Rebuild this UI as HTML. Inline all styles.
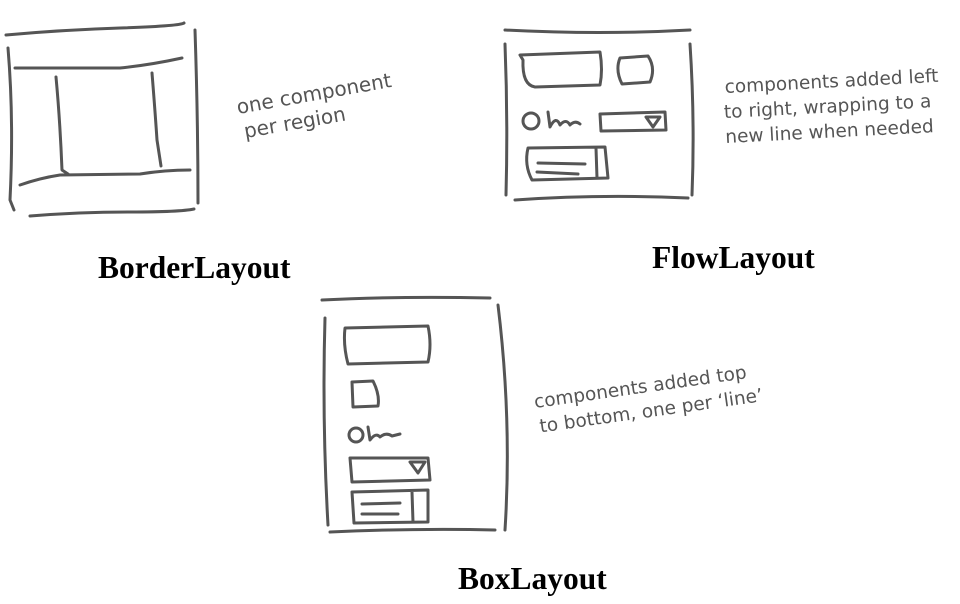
<!DOCTYPE html>
<html><head><meta charset="utf-8"><style>
body{margin:0;background:#fff;width:960px;height:604px;overflow:hidden}
svg{position:absolute;left:0;top:0}
.s{fill:none;stroke:#555;stroke-width:3;stroke-linecap:round;stroke-linejoin:round}
.h{font-family:"DejaVu Sans","Liberation Sans",sans-serif;fill:#555;font-size:18.5px}
.t{font-family:"Liberation Serif",serif;font-weight:bold;font-size:31.5px;fill:#000}
</style></head><body>
<svg width="960" height="604">
<g>
<path class="s" d="M6 35 Q60 30 120 28 T184 23"/>
<path class="s" d="M8 48 Q14 120 10 200 L14 210"/>
<path class="s" d="M195 30 Q198 120 198 203"/>
<path class="s" d="M15 68 L120 68 Q150 65 182 58"/>
<path class="s" d="M56 77 Q60 120 62 170 L68 174"/>
<path class="s" d="M152 73 Q155 110 157 140 L161 166"/>
<path class="s" d="M20 185 Q40 178 60 175 L140 174 Q165 170 190 170"/>
<path class="s" d="M30 216 Q80 212 130 212 T194 209"/>
</g>
<text class="h" style="font-size:20px" transform="translate(238 114) rotate(-10)"><tspan x="0" y="0">one component</tspan><tspan x="3" y="25">per region</tspan></text>
<text class="t" x="98" y="278">BorderLayout</text>

<g>
<path class="s" d="M505 30 Q600 35 690 30"/>
<path class="s" d="M505 44 Q508 120 506 195"/>
<path class="s" d="M690 44 Q695 120 692 195"/>
<path class="s" d="M515 200 Q600 194 688 198"/>
<path class="s" d="M520 55 L600 52 Q603 70 600 85 L535 87 Q522 85 523 60 Z"/>
<path class="s" d="M620 58 L648 56 Q656 68 650 82 L622 84 Q615 70 620 58 Z"/>
<circle class="s" cx="531" cy="121" r="8"/>
<path class="s" d="M548 112 L550 127 Q556 115 560 125 Q566 118 570 125 Q575 120 580 124"/>
<path class="s" d="M600 114 L665 112 L666 130 L601 131 Z M646 117 L660 117 L653 127 Z"/>
<path class="s" d="M528 148 L605 147 L608 178 L532 180 Q524 165 528 148 Z M596 148 L597 178 M538 163 L585 164 M537 172 L578 174"/>
</g>
<text class="h" transform="translate(725 93) rotate(-3)"><tspan x="0" y="0">components added left</tspan><tspan x="-2" y="25">to right, wrapping to a</tspan><tspan x="-2" y="50">new line when needed</tspan></text>
<text class="t" x="652" y="268">FlowLayout</text>

<g>
<path class="s" d="M322 300 Q400 296 490 298"/>
<path class="s" d="M325 318 Q322 420 328 525"/>
<path class="s" d="M498 305 Q512 420 505 530"/>
<path class="s" d="M330 532 Q420 528 495 530"/>
<path class="s" d="M345 328 L428 326 Q432 345 428 362 L348 364 Q343 345 345 328 Z"/>
<path class="s" d="M352 382 L373 381 Q380 395 378 406 L353 407 Z"/>
<circle class="s" cx="356" cy="435" r="7"/>
<path class="s" d="M368 427 L370 440 Q376 432 380 437 Q386 432 392 436 L400 434"/>
<path class="s" d="M350 458 L428 458 L430 480 L352 482 Z M410 462 L425 462 L418 473 Z"/>
<path class="s" d="M352 492 L428 490 L428 522 L354 523 Z M412 492 L413 522 M362 504 L400 503 M362 514 L398 514"/>
</g>
<text class="h" transform="translate(535 408) rotate(-8)"><tspan x="0" y="0">components added top</tspan><tspan x="2" y="25">to bottom, one per ‘line’</tspan></text>
<text class="t" x="458" y="589">BoxLayout</text>
</svg>
</body></html>
